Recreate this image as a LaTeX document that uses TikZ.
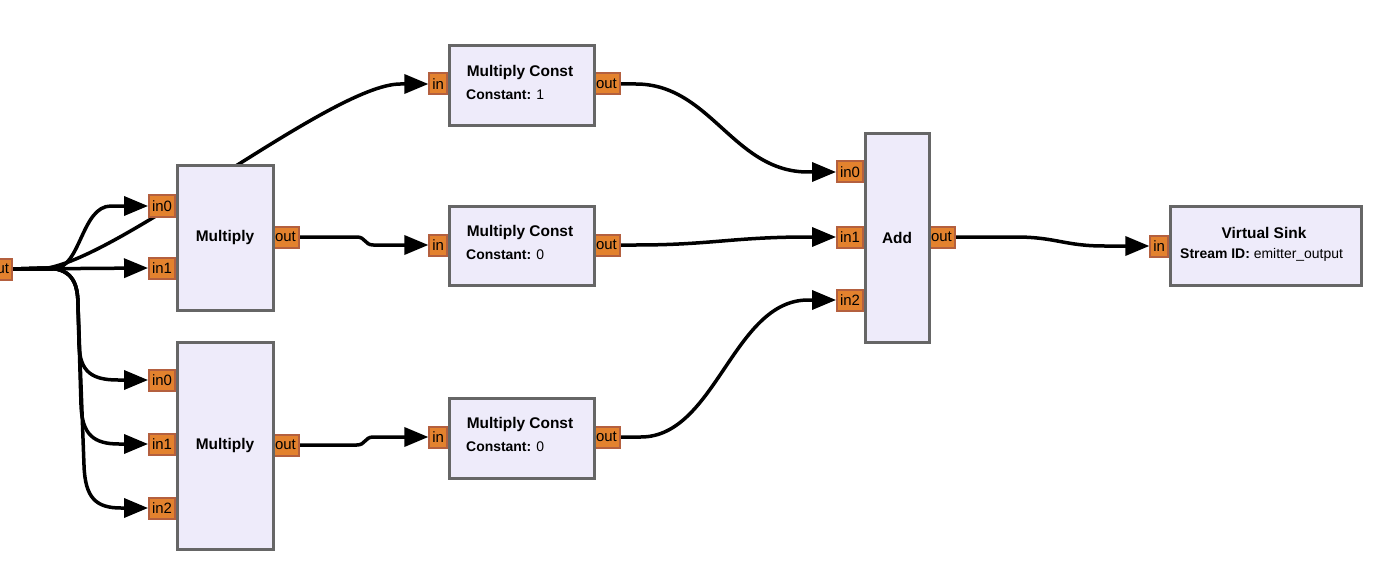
\documentclass[tikz,border=0pt]{standalone}
\usepackage{fontspec}
\setmainfont{Liberation Sans}
\usetikzlibrary{arrows.meta,calc}
\pgfdeclarelayer{bg}
\pgfsetlayers{bg,main}
\definecolor{blockfill}{HTML}{EEEBFA}
\definecolor{blockdraw}{HTML}{666666}
\definecolor{portfill}{HTML}{E3822E}
\definecolor{portdraw}{HTML}{B4603F}
\begin{document}
\begin{tikzpicture}[x=1bp,y=-1bp,
  blockbox/.style={draw=blockdraw,fill=blockfill,line width=3bp,anchor=north west,inner sep=0},
  port/.style={draw=portdraw,fill=portfill,line width=2bp,minimum height=21bp,inner xsep=3bp,inner ysep=0,font=\fontsize{15}{15}\selectfont},
  inport/.style={port,anchor=east},
  outport/.style={port,anchor=west},
  titletext/.style={font=\fontsize{15.5}{18}\selectfont\bfseries,inner sep=0},
  paramtext/.style={font=\fontsize{14}{16}\selectfont,inner sep=0,anchor=west},
  conn/.style={draw=black,line width=3.5bp,-{Triangle[length=24bp,width=19bp]}}]
\useasboundingbox (0,0) rectangle (1392,582);

% ports
\node[inport] (src) at (13,269) {out};
\node[inport] (m1in0) at (176,206) {in0};
\node[inport] (m1in1) at (176,268) {in1};
\node[outport] (m1out) at (271,237) {out};
\node[inport] (m2in0) at (176,380) {in0};
\node[inport] (m2in1) at (176,444) {in1};
\node[inport] (m2in2) at (176,508) {in2};
\node[outport] (m2out) at (271,445) {out};
\node[inport] (mc1in) at (448,84) {in};
\node[outport] (mc1out) at (592,84) {out};
\node[inport] (mc2in) at (448,245) {in};
\node[outport] (mc2out) at (592,245) {out};
\node[inport] (mc3in) at (448,437) {in};
\node[outport] (mc3out) at (592,437) {out};
\node[inport] (addin0) at (864,172) {in0};
\node[inport] (addin1) at (864,237) {in1};
\node[inport] (addin2) at (864,300) {in2};
\node[outport] (addout) at (927,237) {out};
\node[inport] (vsin) at (1169,246) {in};

% blocks
\node[blockbox,minimum width=96bp,minimum height=144bp] (m1) at (175.5,164.5) {};
\node[blockbox,minimum width=96bp,minimum height=207bp] (m2) at (175.5,340.5) {};
\node[blockbox,minimum width=145bp,minimum height=80bp] (mc1) at (447.5,44.5) {};
\node[blockbox,minimum width=145bp,minimum height=79bp] (mc2) at (447.5,204.5) {};
\node[blockbox,minimum width=145bp,minimum height=80bp] (mc3) at (447.5,396.5) {};
\node[blockbox,minimum width=64bp,minimum height=208bp] (add) at (863.5,132.5) {};
\node[blockbox,minimum width=191bp,minimum height=79bp] (vs) at (1168.5,204.5) {};

% texts
\node[titletext] (m1t) at (m1.center) {Multiply};
\node[titletext] (m2t) at (m2.center) {Multiply};
\node[titletext] (addt) at (add.center) {Add};
\node[titletext] (mc1t) at (520,73) {Multiply Const};
\node[paramtext] (mc1p) at (466,95) {\textbf{Constant:} 1};
\node[titletext] (mc2t) at (520,233) {Multiply Const};
\node[paramtext] (mc2p) at (466,255) {\textbf{Constant:} 0};
\node[titletext] (mc3t) at (520,425) {Multiply Const};
\node[paramtext] (mc3p) at (466,447) {\textbf{Constant:} 0};
\node[titletext] (vst) at (1264,233) {Virtual Sink};
\node[paramtext] (vsp) at (1180,255) {\textbf{Stream ID:} emitter\_output};

% connections
\begin{pgfonlayer}{bg}
\draw[conn] (src.east) -- ++(40,0) .. controls +(28,0) and +(-30,0) .. ($(m1in0.west)+(-37,0)$) -- (m1in0.west);
\draw[conn] (src.east) -- (m1in1.west);
\draw[conn] (src.east) -- ++(25,0) .. controls +(70,0) and +(-70,0) .. ($(mc1in.west)+(-28,0)$) -- (mc1in.west);
\draw[conn] (src.east) -- (45,268) .. controls (70,268) and (78,280) .. (78,305) -- (79,345) .. controls (80,372) and (92,380) .. ($(m2in0.west)+(-30,0)$) -- (m2in0.west);
\draw[conn] (src.east) -- (45,268) .. controls (70,268) and (78,280) .. (78,305) -- (81,405) .. controls (82,435) and (94,444) .. ($(m2in1.west)+(-29,0)$) -- (m2in1.west);
\draw[conn] (src.east) -- (45,268) .. controls (70,268) and (78,280) .. (78,305) -- (84,465) .. controls (85,498) and (96,508) .. ($(m2in2.west)+(-27,0)$) -- (m2in2.west);
\draw[conn] (m1out.east) -- ++(57,0) .. controls +(9,0) and +(-9,0) .. ($(mc2in.west)+(-55,0)$) -- (mc2in.west);
\draw[conn] (m2out.east) -- ++(57,0) .. controls +(9,0) and +(-9,0) .. ($(mc3in.west)+(-55,0)$) -- (mc3in.west);
\draw[conn] (mc1out.east) -- ++(15,0) .. controls +(75,0) and +(-75,0) .. ($(addin0.west)+(-28,0)$) -- (addin0.west);
\draw[conn] (mc2out.east) -- ++(15,0) .. controls +(75,0) and +(-75,0) .. ($(addin1.west)+(-28,0)$) -- (addin1.west);
\draw[conn] (mc3out.east) -- ++(20,0) .. controls +(75,0) and +(-75,0) .. ($(addin2.west)+(-28,0)$) -- (addin2.west);
\draw[conn] (addout.east) -- ++(60,0) .. controls +(40,0) and +(-40,0) .. ($(vsin.west)+(-45,0)$) -- (vsin.west);
\end{pgfonlayer}
\end{tikzpicture}
\end{document}
